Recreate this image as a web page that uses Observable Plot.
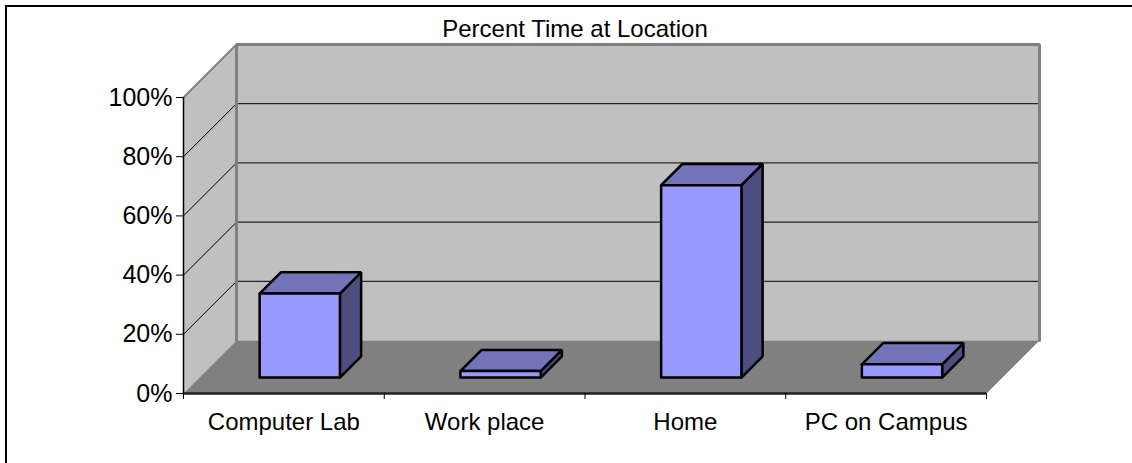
<!DOCTYPE html>
<html>
<head>
<meta charset="utf-8">
<script src="https://cdn.jsdelivr.net/npm/d3@7"></script>
<script src="https://cdn.jsdelivr.net/npm/@observablehq/plot@0.6"></script>
<style>
  html, body { margin: 0; padding: 0; background: #fff; overflow: hidden; }
  #wrap { position: relative; width: 1132px; height: 463px; }
  #wrap svg { display: block; }
  #border { position: absolute; left: 5px; top: 5px; width: 1300px; height: 600px;
            border-left: 2px solid #000; border-top: 2px solid #000; pointer-events: none; }
</style>
</head>
<body>
<div id="wrap"><div id="border"></div></div>
<script>
// ---- data ----
const title = "Percent Time at Location";
const categories = ["Computer Lab", "Work place", "Home", "PC on Campus"];
const values = [28.4, 2.2, 65, 4.5];
const yTicks = [0, 20, 40, 60, 80, 100];
const yTickLabels = ["0%", "20%", "40%", "60%", "80%", "100%"];

// ---- layout / projection constants ----
const W = 1132, H = 463;
const mL = 183, mR = 146, mT = 97, mB = 70;
const n = categories.length;
const depthPx = 53;
const DX = depthPx / ((W - mL - mR) / n);   // depth in category units
const DY = depthPx / ((H - mT - mB) / 100); // depth in percent units
const P = (x, v, f) => ({x: x + f * DX, y: v + f * DY});

const poly = (id, pts) => [...pts, pts[0]].map(p => ({id, ...p}));

const sideWall = poly("side", [P(0, 0, 0), P(0, 100, 0), P(0, 100, 1), P(0, 0, 1)]);
const backWall = poly("back", [P(0, 0, 1), P(n, 0, 1), P(n, 100, 1), P(0, 100, 1)]);
const floor = poly("floor", [P(0, 0, 0), P(n, 0, 0), P(n, 0, 1), P(0, 0, 1)]);
const wallEdge = [P(0, 0, 1), P(0, 100, 1), P(n, 100, 1), P(n, 0, 1)].map(p => ({id: "edge", ...p}));
const sideTop = [P(0, 100, 0), P(0, 100, 1)];

const gridT = yTicks.filter(t => t > 0 && t < 100);

const b0 = 0.3, b1 = 0.7, f0 = 0.3, f1 = 0.7;
const fronts = [], tops = [], sides = [];
values.forEach((v, i) => {
  const x1 = i + b0, x2 = i + b1;
  fronts.push(...poly("f" + i, [P(x1, 0, f0), P(x2, 0, f0), P(x2, v, f0), P(x1, v, f0)]));
  tops.push(...poly("t" + i, [P(x1, v, f0), P(x2, v, f0), P(x2, v, f1), P(x1, v, f1)]));
  sides.push(...poly("s" + i, [P(x2, 0, f0), P(x2, 0, f1), P(x2, v, f1), P(x2, v, f0)]));
});

const font = "'Liberation Sans', Arial, Helvetica, sans-serif";
const barStroke = {stroke: "#000", strokeWidth: 2.5, strokeLinejoin: "miter"};

const chart = Plot.plot({
  width: W, height: H,
  marginLeft: mL, marginRight: mR, marginTop: mT, marginBottom: mB,
  x: {type: "linear", domain: [0, n], axis: null},
  y: {type: "linear", domain: [0, 100], axis: null},
  style: {fontFamily: font, fontSize: "24px", color: "#000", background: "transparent", overflow: "visible"},
  marks: [
    // walls and floor
    Plot.line(sideWall, {x: "x", y: "y", z: "id", fill: "#c0c0c0", stroke: "none"}),
    Plot.line(backWall, {x: "x", y: "y", z: "id", fill: "#c0c0c0", stroke: "none"}),
    Plot.link(gridT, {x1: 0, y1: d => d, x2: DX, y2: d => d + DY, stroke: "#000", strokeWidth: 1}),
    Plot.link(gridT, {x1: DX, y1: d => d + DY, x2: n + DX, y2: d => d + DY, stroke: "#000", strokeWidth: 1}),
    Plot.line(wallEdge, {x: "x", y: "y", z: "id", stroke: "#808080", strokeWidth: 3, strokeLinejoin: "miter"}),
    Plot.line(sideTop, {x: "x", y: "y", stroke: "#808080", strokeWidth: 2}),
    Plot.line(floor, {x: "x", y: "y", z: "id", fill: "#808080", stroke: "none"}),
    // bars
    Plot.line(sides, {x: "x", y: "y", z: "id", fill: "#4d4d80", ...barStroke}),
    Plot.line(tops, {x: "x", y: "y", z: "id", fill: "#7373b9", ...barStroke}),
    Plot.line(fronts, {x: "x", y: "y", z: "id", fill: "#9999ff", ...barStroke}),
    // axes
    Plot.ruleY([0], {x1: 0, x2: n, stroke: "#222", strokeWidth: 2.5}),
    Plot.ruleX([0], {y1: 0, y2: 100, stroke: "#000", strokeWidth: 1.5}),
    Plot.ruleX(d3.range(n + 1), {x: d => d, y1: 0, y2: 0, insetBottom: -6, stroke: "#000", strokeWidth: 1}),
    Plot.axisY({ticks: yTicks, tickFormat: (d) => yTickLabels[yTicks.indexOf(d)], tickSize: 7, tickPadding: 4, fontSize: 25, stroke: "#000", label: null}),
    Plot.axisX({ticks: categories.map((c, i) => i + 0.5), tickFormat: (d) => categories[Math.floor(d)], tickSize: 0, tickPadding: 19, fontSize: 24, label: null}),
    // title
    Plot.text([title], {frameAnchor: "top", dx: -10, dy: -61, lineAnchor: "bottom", fontSize: 24, fill: "#000"})
  ]
});
document.getElementById("wrap").prepend(chart);
</script>
</body>
</html>
